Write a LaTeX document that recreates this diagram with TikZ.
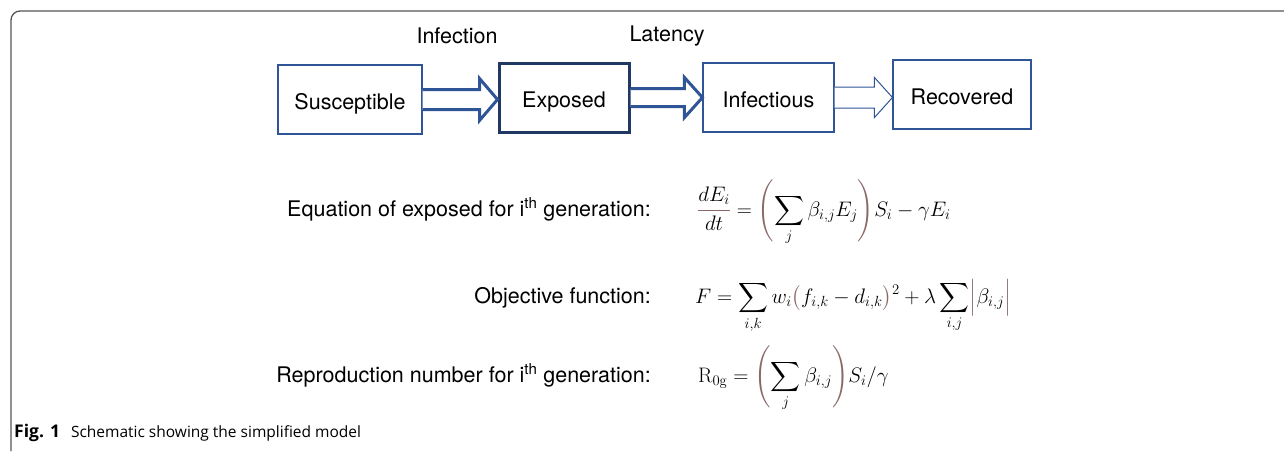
\documentclass[tikz,border=0pt]{standalone}
\usepackage{fix-cm}
\usepackage{amsmath}
\usepackage[no-math]{fontspec}
\setmainfont{TeX Gyre Heros}
\newfontfamily\capfont{Open Sans}
\usetikzlibrary{calc}
\definecolor{bluethin}{RGB}{47,85,151}
\definecolor{navy}{RGB}{32,56,100}
\definecolor{brn}{RGB}{140,105,105}
\definecolor{framec}{RGB}{85,85,85}
\newcommand\blockarr[6]{%
  \draw[#6] let \p1=(#1.east),\p2=(#2.west) in
   (\x1,\y1+#3) -- (\x2-#5,\y1+#3) -- (\x2-#5,\y1+#4) -- (\x2,\y1)
   -- (\x2-#5,\y1-#4) -- (\x2-#5,\y1-#3) -- (\x1,\y1-#3);}
\newcommand\bo{\mathopen{\color{brn}\Biggl(}}
\newcommand\bc{\mathclose{\color{brn}\Biggr)}}
\begin{document}
\begin{tikzpicture}[x=1pt,y=-1pt,
  box/.style={draw=bluethin,line width=1.1pt,inner sep=0pt,text height=20.5pt,text depth=0pt,
    font=\fontsize{21.5}{24}\selectfont},
  lbl/.style={inner sep=0pt,font=\fontsize{21.5}{24}\selectfont},
  eqn/.style={inner sep=0pt,font=\fontsize{21}{25}\selectfont},
  barrow/.style={draw=bluethin,fill=white,line width=3pt,line join=miter},
  tarrow/.style={draw=bluethin,fill=white,line width=1pt,line join=miter},
  framel/.style={draw=framec,line width=1.3pt,rounded corners=9pt}]
\useasboundingbox (0,0) rectangle (1284,451);
\draw[framel] (1284,11) -- (11,11) -- (11,451);

\node[box,minimum width=144pt,minimum height=69pt] (S) at (350,99.5) {Susceptible};
\node[box,draw=navy,line width=3pt,minimum width=130pt,minimum height=69pt] (E) at (564,97.5) {Exposed};
\node[box,minimum width=131pt,minimum height=69pt] (I) at (768.5,97.5) {Infectious};
\node[box,minimum width=138pt,minimum height=69pt] (R) at (962,94.5) {Recovered};

\blockarr{S}{E}{10pt}{21pt}{18pt}{barrow}
\blockarr{E}{I}{9pt}{20pt}{18pt}{barrow}
\blockarr{I}{R}{10.5pt}{20pt}{18pt}{tarrow}

\node[lbl] (linf) at (457,36) {Infection};
\node[lbl] (llat) at (667,36) {Latency};

\node[lbl,anchor=base east] (l1) at (651,216) {Equation of exposed for i\textsuperscript{th} generation:};
\node[lbl,anchor=base east] (l2) at (651,303) {Objective function:};
\node[lbl,anchor=base east] (l3) at (651,382) {Reproduction number for i\textsuperscript{th} generation:};

\node[eqn,anchor=base west] (e1) at (697,216)
  {$\displaystyle {\color{brn}\frac{\color{black}dE_i}{\color{black}dt}} = \bo\sum_j \beta_{i,j}E_j\bc S_i - \gamma E_i$};
\node[eqn,anchor=base west] (e2) at (695,303)
  {$\displaystyle F = \sum_{i,k} w_i\mathopen{\color{brn}\bigl(}f_{i,k}-d_{i,k}\mathclose{\color{brn}\bigr)}^2 + \lambda\sum_{i,j}\mathopen{\color{brn}\Bigl|}\beta_{i,j}\mathclose{\color{brn}\Bigr|}$};
\node[eqn,anchor=base west] (e3) at (698,382)
  {$\displaystyle \mathrm{R}_{0\mathrm{g}} = \bo\sum_j \beta_{i,j}\bc S_i/\gamma$};

\node[inner sep=0pt,anchor=base west,font=\capfont\fontsize{15.5}{18}\selectfont] (cap) at (14,437)
  {{\fontsize{17.5}{20}\selectfont\textbf{Fig. 1}}\hspace{11pt}Schematic showing the simplified model};
\end{tikzpicture}
\end{document}
